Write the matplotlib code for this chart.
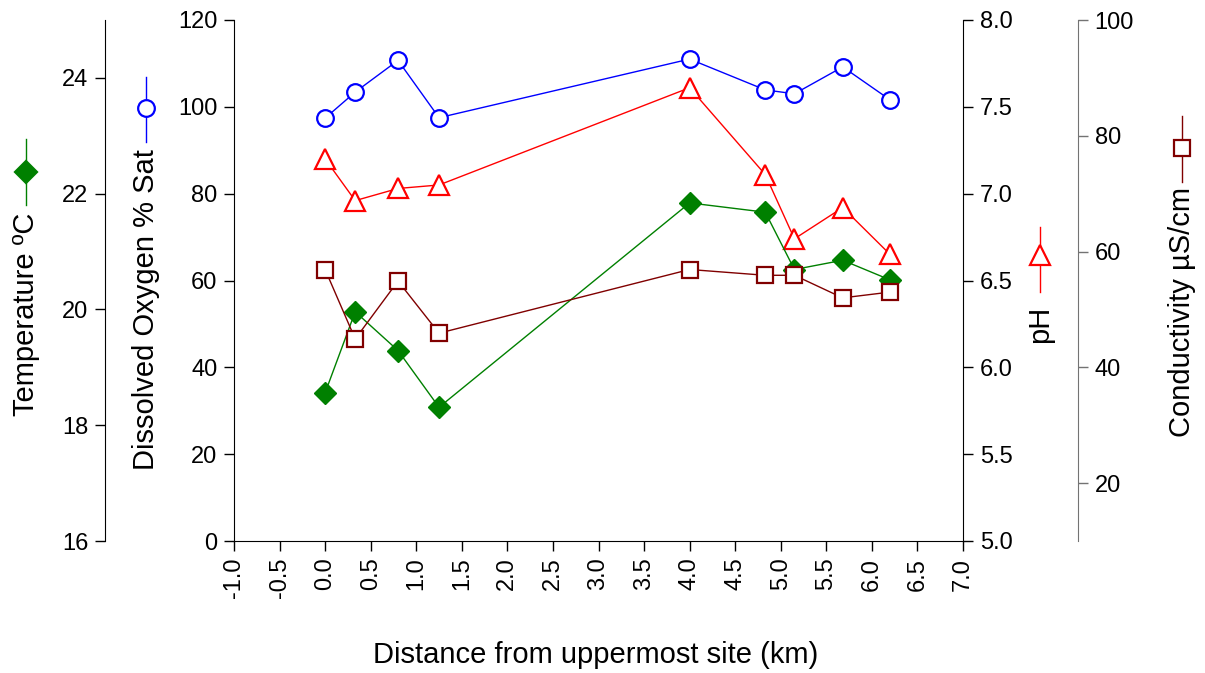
import matplotlib
matplotlib.use("Agg")
import matplotlib.pyplot as plt
from matplotlib.lines import Line2D

plt.rcParams["font.family"] = ["Liberation Sans", "DejaVu Sans"]

# distance from uppermost site (km)
distance = [0.0, 0.33, 0.8, 1.25, 4.0, 4.83, 5.15, 5.68, 6.2]
dissolved_oxygen = [97.4, 103.4, 110.7, 97.5, 111.0, 103.9, 103.0, 109.2, 101.6]
ph = [7.20, 6.96, 7.03, 7.05, 7.61, 7.11, 6.74, 6.92, 6.65]
temperature = [18.56, 19.96, 19.29, 18.31, 21.84, 21.68, 20.69, 20.85, 20.51]
conductivity = [56.9, 44.9, 54.9, 45.9, 56.9, 55.9, 55.9, 52.0, 53.0]

x_ticks = [-1.0, -0.5, 0.0, 0.5, 1.0, 1.5, 2.0, 2.5, 3.0, 3.5, 4.0, 4.5, 5.0, 5.5, 6.0, 6.5, 7.0]

W, H = 1205, 673
fig = plt.figure(figsize=(W / 100, H / 100), dpi=100)
ax = fig.add_axes([234 / W, 1 - 541 / H, (963 - 234) / W, (541 - 20) / H])

FS = 17      # tick labels
TFS = 21     # axis titles
tick_kw = dict(direction="out", length=7, width=1, labelsize=FS, pad=5)

# dissolved oxygen (main left axis)
ax.plot(distance, dissolved_oxygen, color="#0000ff", lw=1.0, marker="o", ms=12,
        mfc="white", mec="#0000ff", mew=1.6, zorder=3)
ax.set_xlim(-1.0, 7.0)
ax.set_ylim(0, 120)
ax.set_xticks(x_ticks)
ax.set_xticklabels([f"{v:.1f}" for v in x_ticks], rotation=90)
ax.set_yticks(range(0, 121, 20))
ax.tick_params(axis="both", **tick_kw)
ax.spines["top"].set_visible(False)
ax.spines["right"].set_visible(False)
ax.patch.set_alpha(0)

# pH (inner right axis)
ax_ph = ax.twinx()
ax_ph.plot(distance, ph, color="#ff0000", lw=1.0, marker="^", ms=14,
           mfc="white", mec="#ff0000", mew=1.6, zorder=3)
ax_ph.set_ylim(5.0, 8.0)
ax_ph.set_yticks([5.0, 5.5, 6.0, 6.5, 7.0, 7.5, 8.0])
ax_ph.set_yticklabels([f"{v:.1f}" for v in ax_ph.get_yticks()])
ax_ph.tick_params(axis="y", **tick_kw)
for s in ["top", "left", "bottom"]:
    ax_ph.spines[s].set_visible(False)

# temperature (outer left axis)
ax_t = ax.twinx()
ax_t.plot(distance, temperature, color="#008000", lw=1.0, marker="D", ms=11,
          mfc="#008000", mec="#008000", zorder=3)
ax_t.set_ylim(16, 25)
ax_t.set_yticks([16, 18, 20, 22, 24])
ax_t.yaxis.set_ticks_position("left")
ax_t.yaxis.set_label_position("left")
ax_t.spines["left"].set_position(("axes", (105 - 234) / (963 - 234)))
ax_t.tick_params(axis="y", **tick_kw)
for s in ["top", "right", "bottom"]:
    ax_t.spines[s].set_visible(False)

# conductivity (outer right axis)
ax_c = ax.twinx()
ax_c.plot(distance, conductivity, color="#800000", lw=1.0, marker="s", ms=12,
          mfc="white", mec="#800000", mew=1.6, zorder=3)
ax_c.set_ylim(10, 100)
ax_c.set_yticks([20, 40, 60, 80, 100])
ax_c.spines["right"].set_position(("axes", (1078 - 234) / (963 - 234)))
ax_c.spines["right"].set_color("0.45")
ax_c.tick_params(axis="y", color="0.45", **tick_kw)
for s in ["top", "left", "bottom"]:
    ax_c.spines[s].set_visible(False)

fig.text(596 / W, 1 - 655 / H, "Distance from uppermost site (km)",
         ha="center", va="center", fontsize=TFS)


# axis titles with their symbol, SigmaPlot style
def axis_title(x, y_text, y_mark, y0, y1, text, color, marker, ms, mfc):
    fig.text(x / W, 1 - y_text / H, text, rotation=90, ha="center", va="center",
             fontsize=TFS)
    fig.add_artist(Line2D([x / W, x / W], [1 - y0 / H, 1 - y1 / H], color=color,
                          lw=1.0, transform=fig.transFigure))
    fig.add_artist(Line2D([x / W], [1 - y_mark / H], color=color, marker=marker,
                          ms=ms, mfc=mfc, mec=color, mew=1.6, ls="none",
                          transform=fig.transFigure))


axis_title(26, 314, 172, 139, 205, "Temperature ºC", "#008000", "D", 11, "#008000")
axis_title(146, 310, 108, 77, 142, "Dissolved Oxygen % Sat", "#0000ff", "o", 12, "white")
axis_title(1040, 324, 255, 227, 292, "pH", "#ff0000", "^", 14, "white")
axis_title(1182, 312, 148, 116, 182, "Conductivity µS/cm", "#800000", "s", 12, "white")

fig.savefig("out.png", dpi=100)
